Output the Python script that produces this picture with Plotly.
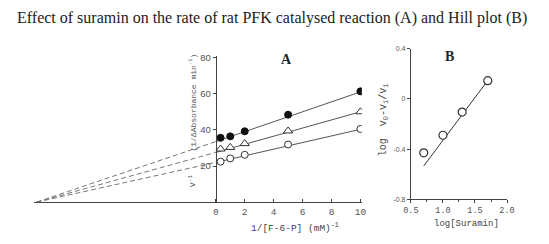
import plotly.graph_objects as go

W, H = 549, 244

title_text = "Effect of suramin on the rate of rat PFK catalysed reaction (A) and Hill plot (B)"

# Panel A: Lineweaver-Burk
inv_f6p = [0.33, 1, 2, 5, 10]
v_inv_filled = [35.6, 36.4, 39.2, 48.4, 61.3]
v_inv_triangle = [29.4, 30.3, 32.4, 39.4, 50.0]
v_inv_circle = [22.4, 24.2, 26.2, 31.9, 40.5]
# fitted lines: x-intercept, y-intercept, value at x=10
fit_x_dash = [-12.4, 0]
fit_x_solid = [0, 10]
fit_filled = [0, 33.5, 61.0]
fit_triangle = [0, 27.5, 50.0]
fit_circle = [0, 22.0, 40.3]
a_xticks = [0, 2, 4, 6, 8, 10]
a_yticks = [20, 40, 60, 80]

# Panel B: Hill plot
log_suramin = [0.70, 1.0, 1.30, 1.70]
log_hill = [-0.43, -0.29, -0.105, 0.145]
hill_fit_x = [0.70, 1.72]
hill_fit_y = [-0.535, 0.16]
b_xticks = [0.5, 1.0, 1.5, 2.0]
b_xticklabels = ["0.5", "1.0", "1.5", "2.0"]
b_yticks = [-0.8, -0.4, 0, 0.4]
b_yticklabels = ["-0.8", "-0.4", "0", "0.4"]

def px(x):
    return x / W

def py(y):
    return 1 - y / H

axis_col = "#444444"
line_col = "#555555"
tick_font = dict(family="Liberation Sans, Arial", size=9.5, color="#555555")
mono = "Liberation Mono, Courier New, monospace"

fig = go.Figure()

for fy in (fit_filled, fit_triangle, fit_circle):
    fig.add_trace(go.Scatter(x=fit_x_dash, y=fy[:2], mode="lines",
                             line=dict(color="#777777", width=1, dash="5px,3px"),
                             xaxis="x", yaxis="y", showlegend=False, hoverinfo="skip"))
    fig.add_trace(go.Scatter(x=fit_x_solid, y=fy[1:], mode="lines",
                             line=dict(color=line_col, width=1),
                             xaxis="x", yaxis="y", showlegend=False, hoverinfo="skip"))

fig.add_trace(go.Scatter(x=inv_f6p, y=v_inv_filled, mode="markers",
                         marker=dict(symbol="circle", size=7, color="#111111",
                                     line=dict(color="#111111", width=1)),
                         xaxis="x", yaxis="y", showlegend=False))
fig.add_trace(go.Scatter(x=inv_f6p, y=v_inv_triangle, mode="markers",
                         marker=dict(symbol="triangle-up", size=8, color="white",
                                     line=dict(color="#333333", width=1)),
                         xaxis="x", yaxis="y", showlegend=False))
fig.add_trace(go.Scatter(x=inv_f6p, y=v_inv_circle, mode="markers",
                         marker=dict(symbol="circle", size=7, color="white",
                                     line=dict(color="#333333", width=1)),
                         xaxis="x", yaxis="y", showlegend=False))

fig.add_trace(go.Scatter(x=hill_fit_x, y=hill_fit_y, mode="lines",
                         line=dict(color="#333333", width=1),
                         xaxis="x2", yaxis="y2", showlegend=False, hoverinfo="skip"))
fig.add_trace(go.Scatter(x=log_suramin, y=log_hill, mode="markers",
                         marker=dict(symbol="circle", size=8, color="white",
                                     line=dict(color="#333333", width=1.2)),
                         xaxis="x2", yaxis="y2", showlegend=False))

a_xmin, a_xmax = -12.6, 10.1
a_left, a_right = 26.3, 364.5
a_pos = px(214)

fig.update_layout(
    width=W, height=H,
    margin=dict(l=0, r=0, t=0, b=0),
    paper_bgcolor="white", plot_bgcolor="white",
    showlegend=False,
    xaxis=dict(domain=[px(a_left), px(a_right)], range=[a_xmin, a_xmax],
               anchor="y", showgrid=False, zeroline=False,
               showline=True, linecolor=axis_col, linewidth=1,
               tickvals=a_xticks, ticks="inside", ticklen=3, tickcolor=axis_col,
               tickfont=dict(family=mono, size=9.5, color="#555555")),
    yaxis=dict(domain=[py(204), py(53.3)], range=[0, 81],
               anchor="free", position=a_pos, showgrid=False, zeroline=False,
               showline=True, linecolor=axis_col, linewidth=1,
               tickvals=a_yticks, ticks="outside", ticklen=3, tickcolor=axis_col,
               tickfont=tick_font),
    xaxis2=dict(domain=[px(415), px(514)], range=[0.5, 2.0],
                anchor="y2", showgrid=False, zeroline=False,
                showline=True, linecolor=axis_col, linewidth=1,
                tickvals=b_xticks, ticktext=b_xticklabels,
                ticks="outside", ticklen=3, tickcolor=axis_col,
                minor=dict(dtick=0.25, ticks="outside", ticklen=2, tickcolor=axis_col),
                tickfont=dict(family=mono, size=8.5, color="#555555")),
    yaxis2=dict(domain=[py(201), py(46)], range=[-0.8, 0.4],
                anchor="x2", showgrid=False, zeroline=False,
                showline=True, linecolor=axis_col, linewidth=1,
                tickvals=b_yticks, ticktext=b_yticklabels,
                ticks="outside", ticklen=3, tickcolor=axis_col,
                tickfont=dict(family="Liberation Sans, Arial", size=7, color="#555555")),
)

annots = [
    dict(x=px(271.5), y=py(14), text=title_text,
         font=dict(family="Liberation Serif, Times New Roman", size=16, color="#222222")),
    dict(x=px(287), y=py(57), text="<b>A</b>",
         font=dict(family="Liberation Serif, Times New Roman", size=14, color="#222222")),
    dict(x=px(455), y=py(54), text="<b>B</b>",
         font=dict(family="Liberation Serif, Times New Roman", size=14, color="#222222")),
    dict(x=px(190), y=py(101), text="(1/ΔAbsorbance min<sup>-1</sup>)", textangle=-90,
         font=dict(family=mono, size=8, color="#555555")),
    dict(x=px(190), y=py(182), text="v<sup>-1</sup>", textangle=-90,
         font=dict(family=mono, size=8.5, color="#555555")),
    dict(x=px(296), y=py(230), text="1/[F-6-P] (mM)<sup>-1</sup>",
         font=dict(family=mono, size=9.5, color="#444444")),
    dict(x=px(387), y=py(119), text="log  v<sub>0</sub>-v<sub>i</sub>/v<sub>i</sub>", textangle=-90,
         font=dict(family=mono, size=10, color="#444444")),
    dict(x=px(472), y=py(227), text="log[Suramin]",
         font=dict(family=mono, size=9, color="#444444")),
]
for a in annots:
    a.update(xref="paper", yref="paper", showarrow=False, xanchor="center", yanchor="middle")
    fig.add_annotation(**a)

fig.write_html("out.html", config={"displayModeBar": False},
               post_script="document.body.style.margin='0';document.body.style.overflow='hidden';")
